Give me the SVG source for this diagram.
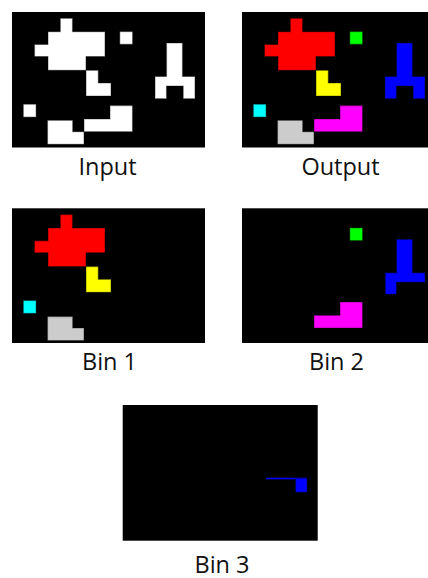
<svg xmlns="http://www.w3.org/2000/svg" xmlns:xlink="http://www.w3.org/1999/xlink" width="428" height="578" viewBox="0 0 428 578">
  <style>
    .panel { fill: #000000; }
    .shape { stroke: #000000; stroke-opacity: 0.35; stroke-width: 1.2; stroke-linejoin: miter; }
    .label { font-family: "Open Sans", "Noto Sans", "DejaVu Sans", sans-serif; font-size: 23.5px; fill: #111111; text-anchor: middle; }
    .w { fill: #FFFFFF; }
    .red { fill: #FF0000; }
    .yel { fill: #FFFF00; }
    .grn { fill: #00FF00; }
    .cyn { fill: #00FFFF; }
    .gry { fill: #CCCCCC; }
    .mag { fill: #FF00FF; }
    .blu { fill: #0000FF; }
  </style>
  <defs>
    <polygon id="blob" points="48.3,6.3 60.5,6.3 60.5,19.7 93,19.7 93,44.5 74,44.5 74,58.3 36,58.3 36,44.5 22.5,44.5 22.5,32.5 36,32.5 36,19.7 48.3,19.7"/>
    <polygon id="ell" points="74,58.3 86.3,58.3 86.3,71 99,71 99,84 74,84"/>
    <rect id="sqg" x="107.8" y="19.6" width="12.8" height="12.7"/>
    <rect id="sqc" x="11.3" y="92.2" width="12.8" height="12.9"/>
    <polygon id="gshape" points="35.5,108.3 60.7,108.3 60.7,119.7 72,119.7 72,132.3 35.5,132.3"/>
    <polygon id="mshape" points="98,93.6 120.5,93.6 120.5,119.7 72,119.7 72,107 98,107"/>
    <polygon id="tee" points="154.5,31 170.5,31 170.5,64.5 183,64.5 183,86.7 171.2,86.7 171.2,74 154.5,74 154.5,86.7 143,86.7 143,64.5 154.5,64.5"/>
    <polygon id="tee2" points="154.5,31 170.5,31 170.5,64.5 183,64.5 183,74 154.5,74 154.5,86 143.3,86 143.3,64.5 154.5,64.5"/>
  </defs>

  <g id="input">
    <rect class="panel" x="12" y="12" width="193" height="135.5"/>
    <g transform="translate(12,12)">
      <use xlink:href="#blob" class="shape w"/>
      <use xlink:href="#ell" class="shape w"/>
      <use xlink:href="#sqg" class="shape w"/>
      <use xlink:href="#sqc" class="shape w"/>
      <use xlink:href="#gshape" class="shape w"/>
      <use xlink:href="#mshape" class="shape w"/>
      <use xlink:href="#tee" class="shape w"/>
    </g>
    <text class="label" x="107.5" y="175">Input</text>
  </g>

  <g id="output">
    <rect class="panel" x="242" y="12" width="193" height="135.5"/>
    <g transform="translate(242,12)">
      <use xlink:href="#blob" class="shape red"/>
      <use xlink:href="#ell" class="shape yel"/>
      <use xlink:href="#sqg" class="shape grn"/>
      <use xlink:href="#sqc" class="shape cyn"/>
      <use xlink:href="#gshape" class="shape gry"/>
      <use xlink:href="#mshape" class="shape mag"/>
      <use xlink:href="#tee" class="shape blu"/>
    </g>
    <text class="label" x="340.5" y="175">Output</text>
  </g>

  <g id="bin1">
    <rect class="panel" x="12" y="208.3" width="193" height="134.7"/>
    <g transform="translate(12,208.3)">
      <use xlink:href="#blob" class="shape red"/>
      <use xlink:href="#ell" class="shape yel"/>
      <use xlink:href="#sqc" class="shape cyn"/>
      <use xlink:href="#gshape" class="shape gry"/>
    </g>
    <text class="label" x="109.5" y="370">Bin 1</text>
  </g>

  <g id="bin2">
    <rect class="panel" x="242" y="208.3" width="193" height="134.7"/>
    <g transform="translate(242,208.3)">
      <use xlink:href="#sqg" class="shape grn"/>
      <use xlink:href="#mshape" class="shape mag"/>
      <use xlink:href="#tee2" class="shape blu"/>
    </g>
    <text class="label" x="336.5" y="370">Bin 2</text>
  </g>

  <g id="bin3">
    <rect class="panel" x="122.7" y="405" width="195" height="135.7"/>
    <g transform="translate(122.7,405)">
      <rect class="blu" x="143.3" y="72.7" width="40.5" height="1.6"/>
      <rect class="shape blu" x="172.8" y="73.3" width="11.6" height="14"/>
    </g>
    <text class="label" x="222" y="572.5">Bin 3</text>
  </g>

  <g id="connectors"></g>
</svg>
